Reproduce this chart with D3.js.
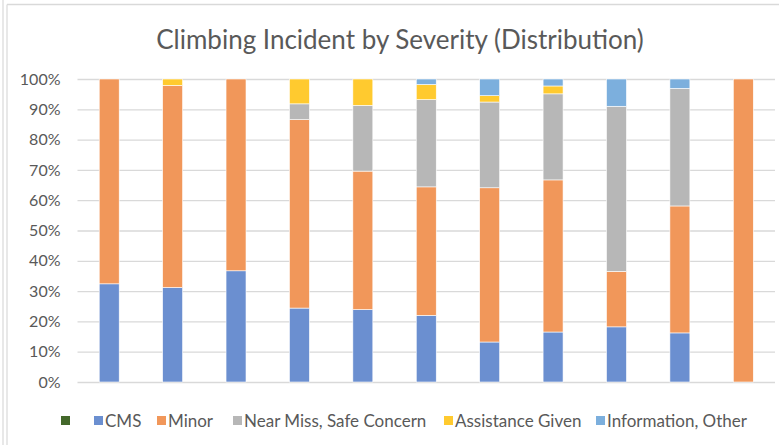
<!DOCTYPE html>
<html>
<head>
<meta charset="utf-8">
<script src="https://cdn.jsdelivr.net/npm/d3@7"></script>
<style>
  body { margin: 0; background: #fff; }
  text { font-family: Lato, "Open Sans", sans-serif; fill: #595959; }
</style>
</head>
<body>
<div id="chart"></div>
<script>
// categories have no labels on the axis
var categories = ["1", "2", "3", "4", "5", "6", "7", "8", "9", "10", "11"];
var seriesNames = ["", "CMS", "Minor", "Near Miss, Safe Concern", "Assistance Given", "Information, Other"];
var seriesColors = ["#43682b", "#6b8fd0", "#f1975a", "#b7b7b7", "#ffca2f", "#7cafdd"];

// percentages
var blank      = [0, 0, 0, 0, 0, 0, 0, 0, 0, 0, 0];
var cms        = [32.4, 31.2, 36.7, 24.4, 23.9, 22.0, 13.2, 16.5, 18.2, 16.2, 0];
var minor      = [67.6, 66.7, 63.3, 62.2, 45.7, 42.4, 50.9, 50.2, 18.3, 41.9, 100];
var nearMiss   = [0, 0, 0, 5.2, 21.7, 28.8, 28.3, 28.4, 54.5, 38.8, 0];
var assistance = [0, 2.1, 0, 8.2, 8.7, 5.0, 2.1, 2.6, 0, 0, 0];
var info       = [0, 0, 0, 0, 0, 1.8, 5.5, 2.3, 9.0, 3.1, 0];
var yTicks = [0, 0.1, 0.2, 0.3, 0.4, 0.5, 0.6, 0.7, 0.8, 0.9, 1];

var W = 780, H = 445;
var margin = {top: 79, right: 5, bottom: 63, left: 77.5};

var svg = d3.select("#chart").append("svg")
  .attr("width", W)
  .attr("height", H);

// chart frame lines
svg.append("line").attr("x1", 3).attr("x2", 3).attr("y1", 0).attr("y2", H)
  .attr("stroke", "#d9d9d9").attr("stroke-width", 1.2);
svg.append("line").attr("x1", 7).attr("x2", 7).attr("y1", 4.5).attr("y2", H)
  .attr("stroke", "#d9d9d9").attr("stroke-width", 1.2);
svg.append("line").attr("x1", 7).attr("x2", 779).attr("y1", 4.5).attr("y2", 4.5)
  .attr("stroke", "#d9d9d9").attr("stroke-width", 1.5);

svg.append("text")
  .attr("x", 400)
  .attr("y", 49)
  .attr("text-anchor", "middle")
  .style("font-size", "26px")
  .text("Climbing Incident by Severity (Distribution)");

var x = d3.scaleBand()
  .domain(categories)
  .range([margin.left, W - margin.right])
  .paddingInner(0.685)
  .paddingOuter(0.3425);

var y = d3.scaleLinear()
  .domain([0, 1])
  .range([H - margin.bottom, margin.top]);

// gridlines
svg.append("g")
  .attr("transform", "translate(" + margin.left + ",0)")
  .call(d3.axisLeft(y).tickValues(yTicks).tickSize(-(W - margin.right - margin.left)).tickFormat(d3.format(".0%")))
  .call(function(g) {
    g.select(".domain").remove();
    g.selectAll(".tick line").attr("stroke", "#d9d9d9").attr("stroke-width", 1.3);
    g.selectAll(".tick text")
      .attr("x", -17)
      .style("font-size", "16px")
      .style("font-family", "Lato, sans-serif")
      .attr("fill", "#595959");
  });

var rows = categories.map(function(c, i) {
  return {cat: c, s0: blank[i], s1: cms[i], s2: minor[i], s3: nearMiss[i], s4: assistance[i], s5: info[i]};
});
var keys = ["s0", "s1", "s2", "s3", "s4", "s5"];
var stack = d3.stack().keys(keys).offset(d3.stackOffsetExpand);
var layers = stack(rows);

svg.append("g").selectAll("g")
  .data(layers)
  .join("g")
  .attr("fill", function(d, i) { return seriesColors[i]; })
  .selectAll("rect")
  .data(function(d) { return d; })
  .join("rect")
  .attr("x", function(d) { return x(d.data.cat); })
  .attr("width", x.bandwidth())
  .attr("y", function(d) { return y(d[1]); })
  .attr("height", function(d) { return Math.max(0, y(d[0]) - y(d[1])); })
  .attr("stroke", "#ffffff")
  .attr("stroke-width", function(d) { return (d[1] - d[0]) > 0 ? 0.6 : 0; });

// legend
var legendX = [61, 94, 157, 233, 444, 596];
var legend = svg.append("g");
seriesNames.forEach(function(name, i) {
  legend.append("rect")
    .attr("x", legendX[i])
    .attr("y", 416)
    .attr("width", 9)
    .attr("height", 9)
    .attr("fill", seriesColors[i]);
  legend.append("text")
    .attr("x", legendX[i] + 11)
    .attr("y", 427)
    .style("font-size", "17px")
    .text(name);
});
</script>
</body>
</html>
